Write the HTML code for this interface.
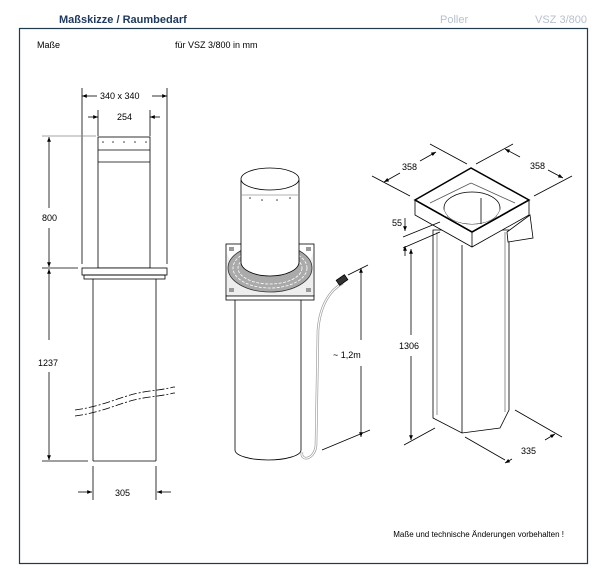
<!DOCTYPE html>
<html><head><meta charset="utf-8"><style>
body{margin:0;background:#fff;}
svg{display:block;font-family:"Liberation Sans",Arial,sans-serif;}
</style></head><body>
<svg width="606" height="575" viewBox="0 0 606 575" xmlns="http://www.w3.org/2000/svg">
<defs>
<marker id="a" viewBox="0 0 10 10" refX="10" refY="5" markerWidth="8" markerHeight="6" orient="auto-start-reverse"><path d="M0,1 L10,5 L0,9 z" fill="#000"/></marker>
</defs>
<text x="59" y="23" font-size="11" font-weight="bold" fill="#1f3a60">Maßskizze / Raumbedarf</text>
<text x="440" y="23" font-size="11" fill="#b8c0cc">Poller</text>
<text x="535" y="23" font-size="11" fill="#b8c0cc">VSZ 3/800</text>
<rect x="19.5" y="28.5" width="568" height="535" fill="none" stroke="#1f3a4a" stroke-width="1.2"/>
<text x="37" y="48" font-size="9">Maße</text>
<text x="175" y="48" font-size="9">für VSZ 3/800  in mm</text>

<g stroke="#000" stroke-width="0.8" fill="none">
<!-- LEFT -->
<line x1="82" y1="88" x2="82" y2="264"/><line x1="167" y1="88" x2="167" y2="264"/>
<line x1="82" y1="96" x2="97" y2="96" marker-start="url(#a)"/><line x1="152" y1="96" x2="167" y2="96" marker-end="url(#a)"/>
<line x1="98" y1="110" x2="98" y2="136"/><line x1="150" y1="110" x2="150" y2="136"/>
<line x1="88" y1="117" x2="98" y2="117" marker-end="url(#a)"/><line x1="160" y1="117" x2="150" y2="117" marker-end="url(#a)"/>
<line x1="42" y1="136" x2="96" y2="136" stroke="#888"/>
<rect x="98" y="137" width="52" height="131" fill="#fff"/>
<line x1="98" y1="150" x2="150" y2="150"/><line x1="98" y1="162" x2="150" y2="162"/>
<rect x="82" y="268" width="85" height="7" fill="#fff"/>
<rect x="84" y="275" width="81" height="4"/>
<line x1="93" y1="279" x2="93" y2="461"/><line x1="156" y1="279" x2="156" y2="461"/>
<line x1="93" y1="461" x2="156" y2="461"/>
<line x1="42" y1="268" x2="78" y2="268"/><line x1="42" y1="461" x2="88" y2="461"/>
<line x1="49" y1="208" x2="49" y2="137" marker-end="url(#a)"/><line x1="49" y1="228" x2="49" y2="267" marker-end="url(#a)"/>
<line x1="49" y1="340" x2="49" y2="269" marker-end="url(#a)"/><line x1="49" y1="372" x2="49" y2="460" marker-end="url(#a)"/>
<line x1="93" y1="466" x2="93" y2="500"/><line x1="156" y1="466" x2="156" y2="500"/>
<line x1="78" y1="492" x2="92" y2="492" marker-end="url(#a)"/><line x1="171" y1="492" x2="157" y2="492" marker-end="url(#a)"/>
<path d="M75,410 C110,405 120,395 150,391 S170,387 175,387" stroke-dasharray="8,2,2,2"/>
<path d="M75,416 C110,411 120,401 150,397 S170,393 175,393" stroke-dasharray="8,2,2,2"/>
</g>
<g font-size="9" fill="#000">
<text x="100" y="99">340 x 340</text>
<text x="117" y="120">254</text>
<text x="42" y="221">800</text>
<text x="38" y="366">1237</text>
<text x="115" y="496">305</text>
</g>
<g fill="#333"><circle cx="103" cy="142" r="0.8"/><circle cx="113" cy="142" r="0.8"/><circle cx="124" cy="142" r="0.8"/><circle cx="135" cy="142" r="0.8"/><circle cx="146" cy="142" r="0.8"/></g>

<!-- MIDDLE -->
<g stroke="#000" stroke-width="0.8" fill="#fff">
<path d="M235,300 L235,450 A33,10 0 0 0 301,450 L301,300"/>
<path d="M343,283 C330,290 320,305 318,330 L316,445 C315,460 300,462 302,452" fill="none" stroke="#999" stroke-width="2.5"/>
<path d="M343,283 C330,290 320,305 318,330 L316,445 C315,460 300,462 302,452" fill="none" stroke="#fff" stroke-width="1.2"/>
<rect x="337" y="277" width="10" height="6" transform="rotate(-35 342 280)" fill="#333"/>
<rect x="226" y="244" width="88" height="52"/>
<rect x="226" y="296" width="88" height="4"/>
<path d="M227,252 C235,290 305,290 313,252 L313,295 L227,295 Z" fill="#eee" stroke="none"/>
<ellipse cx="270" cy="268" rx="42" ry="24" fill="#aaa" stroke="#333"/>
<ellipse cx="270" cy="268" rx="37" ry="20" fill="none" stroke="#fff" stroke-dasharray="3,1.5"/>
<ellipse cx="270" cy="268" rx="32" ry="16" fill="none" stroke="#fff" stroke-dasharray="3,1.5"/>
<path d="M241,180 L241,262 A29,14 0 0 0 299,262 L299,180"/>
<ellipse cx="270" cy="179" rx="29" ry="11"/>
<line x1="241" y1="195" x2="299" y2="195" stroke="#999"/>
<rect x="229" y="247" width="5" height="4" fill="#999" stroke="none"/><rect x="306" y="247" width="5" height="4" fill="#999" stroke="none"/>
<rect x="229" y="288" width="5" height="4" fill="#999" stroke="none"/><rect x="306" y="288" width="5" height="4" fill="#999" stroke="none"/>
</g>
<g fill="#333"><circle cx="250" cy="198" r="0.8"/><circle cx="262" cy="200" r="0.8"/><circle cx="277" cy="200" r="0.8"/><circle cx="290" cy="198" r="0.8"/></g>
<g stroke="#000" stroke-width="0.8" fill="none">
<line x1="348" y1="275" x2="368" y2="265"/><line x1="322" y1="450" x2="370" y2="430"/>
<line x1="361" y1="340" x2="361" y2="268" marker-end="url(#a)"/><line x1="361" y1="366" x2="361" y2="437" marker-end="url(#a)"/>
</g>
<text x="333" y="358" font-size="9">~ 1,2m</text>

<!-- RIGHT -->
<g stroke="#000" stroke-width="0.8" fill="#fff">
<path d="M433,230 L433,418 L462,433 L500,428 L509,410 L509,230 Z"/>
<line x1="462" y1="245" x2="462" y2="433"/>
<line x1="437" y1="232" x2="437" y2="415" stroke="#777"/>
<line x1="505" y1="232" x2="505" y2="412" stroke="#777"/>
<path d="M507,232 L530,215 L533,238 L508,242 Z"/>
<path d="M415,200 L415,215 L472,247 L529,215 L529,200"/>
<line x1="472" y1="232" x2="472" y2="247"/>
<path d="M471,168 L415,200 L472,232 L529,200 Z" stroke-width="1.5"/>
<path d="M471,183 L430,203 M471,183 L515,203" stroke="#555"/>
<ellipse cx="472" cy="208" rx="28" ry="16"/>
<path d="M444,208 A28,16 0 0 0 500,208 L500,216 L444,216 Z" fill="#fff" stroke="none"/>
<path d="M415,200 L472,232 L529,200" stroke-width="1.5" fill="none"/>
<line x1="481" y1="198" x2="481" y2="224"/>
</g>
<g stroke="#000" stroke-width="0.8" fill="none">
<line x1="467" y1="164" x2="430" y2="144"/><line x1="410" y1="196" x2="372" y2="176"/>
<line x1="384" y1="182" x2="400" y2="173" marker-start="url(#a)"/><line x1="420" y1="161" x2="436" y2="152" marker-end="url(#a)"/>
<line x1="476" y1="164" x2="513" y2="144"/><line x1="534" y1="196" x2="572" y2="176"/>
<line x1="505" y1="149" x2="520" y2="157" marker-start="url(#a)"/><line x1="548" y1="170" x2="563" y2="178" marker-end="url(#a)"/>
<line x1="405" y1="218" x2="405" y2="231" marker-end="url(#a)"/>
<line x1="405" y1="256" x2="405" y2="246" marker-end="url(#a)"/>
<line x1="403" y1="237" x2="440" y2="222"/><line x1="403" y1="248" x2="440" y2="232"/>
<line x1="411" y1="335" x2="411" y2="249" marker-end="url(#a)"/><line x1="411" y1="356" x2="411" y2="440" marker-end="url(#a)"/>
<line x1="404" y1="445" x2="435" y2="428"/>
<line x1="465" y1="437" x2="505" y2="460"/><line x1="515" y1="410" x2="562" y2="437"/>
<line x1="512" y1="459" x2="505" y2="463" marker-end="url(#a)"/><line x1="545" y1="440" x2="555" y2="434" marker-end="url(#a)"/>
</g>
<g font-size="9">
<text x="402" y="170">358</text>
<text x="530" y="169">358</text>
<text x="392" y="226">55</text>
<text x="399" y="349">1306</text>
<text x="521" y="454">335</text>
</g>
<text x="564" y="537" font-size="8" text-anchor="end">Maße und technische Änderungen vorbehalten !</text>
</svg>
</body></html>
